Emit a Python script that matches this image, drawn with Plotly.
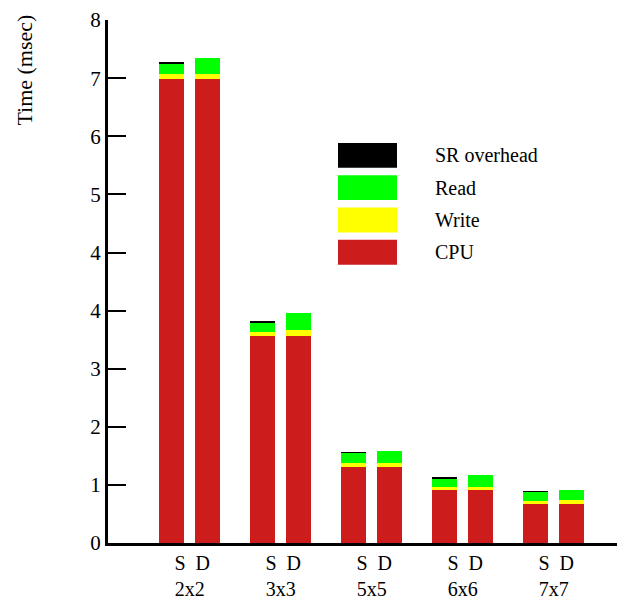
import plotly.graph_objects as go

# ---- data (values in axis units) ----
groups = ["2x2", "3x3", "5x5", "6x6", "7x7"]
variants = ["S", "D"]
cpu_s = [7.98, 3.57, 1.30, 0.91, 0.67]
cpu_d = [7.98, 3.57, 1.30, 0.91, 0.67]
write_s = [0.10, 0.07, 0.07, 0.05, 0.06]
write_d = [0.10, 0.09, 0.07, 0.06, 0.07]
read_s = [0.175, 0.16, 0.185, 0.155, 0.15]
read_d = [0.275, 0.297, 0.218, 0.196, 0.165]
sr_s = [0.01, 0.01, 0.01, 0.01, 0.01]
sr_d = [0.0, 0.0, 0.0, 0.0, 0.0]
ytick_vals = [0, 1, 2, 3, 4, 5, 6, 7, 8, 9]
ytick_text = ["0", "1", "2", "3", "4", "4", "5", "6", "7", "8"]
series_names = ["CPU", "Write", "Read", "SR overhead"]
series_colors = ["#CC1C1C", "#FFFF00", "#00FF00", "#000000"]

FONT = "Liberation Serif, Times New Roman, serif"
OFF = 8  # page body margin
W, H = 625 - OFF, 600 - OFF
PLOT_L, PLOT_R, PLOT_T, PLOT_B = 108, 625, 17, 544  # page pixels
ML = PLOT_L - OFF
MT = PLOT_T - OFF
MR = (OFF + W) - PLOT_R
MB = (OFF + H) - PLOT_B
PW, PH = PLOT_R - PLOT_L, PLOT_B - PLOT_T

def px(xp):
    return (xp - PLOT_L) / PW

def py(yp):
    return (PLOT_B - yp) / PH

px_per_group = 91.0
offset = 18.0 / px_per_group
bar_w = 25.3 / px_per_group

x_pos = []
for i in range(len(groups)):
    x_pos += [i - offset, i + offset]

def interleave(a, b):
    out = []
    for u, v in zip(a, b):
        out += [u, v]
    return out

series_vals = [interleave(cpu_s, cpu_d), interleave(write_s, write_d),
               interleave(read_s, read_d), interleave(sr_s, sr_d)]

fig = go.Figure()
for name, col, vals in zip(series_names, series_colors, series_vals):
    fig.add_trace(go.Bar(x=x_pos, y=vals, name=name, width=bar_w,
                         marker=dict(color=col, line=dict(width=0)),
                         showlegend=False))

x0 = -(189.7 - PLOT_L) / px_per_group
x1 = x0 + PW / px_per_group

fig.update_layout(
    width=W, height=H, barmode="stack",
    margin=dict(l=ML, r=MR, t=MT, b=MB, pad=0),
    plot_bgcolor="white", paper_bgcolor="white",
    font=dict(family=FONT, size=20, color="black"),
    xaxis=dict(range=[x0, x1], showline=True, linecolor="black", linewidth=3,
               showgrid=False, zeroline=False, ticks="",
               tickvals=list(range(len(groups))),
               ticktext=[" S  D<br>" + g for g in groups],
               tickfont=dict(family=FONT, size=20, color="black")),
    yaxis=dict(range=[0, 9.002], showline=True, linecolor="black", linewidth=3,
               showgrid=False, zeroline=False, ticks="inside", ticklen=18,
               tickwidth=2, tickcolor="black", ticklabeloverflow="allow",
               tickvals=ytick_vals, ticktext=ytick_text,
               tickfont=dict(family=FONT, size=21, color="black")),
)

fig.add_annotation(text="Time (msec)", textangle=-90, xref="paper", yref="paper",
                   x=px(25), y=py(68), showarrow=False,
                   xanchor="center", yanchor="middle",
                   font=dict(family=FONT, size=22, color="black"))

# legend drawn manually (big swatches)
legend_order = [3, 2, 1, 0]
row_tops = [141, 173.5, 206, 238.5]
for k, idx in enumerate(legend_order):
    top = row_tops[k]
    bot = top + 25
    fig.add_shape(type="rect", xref="paper", yref="paper",
                  x0=px(338), x1=px(397), y0=py(bot), y1=py(top),
                  fillcolor=series_colors[idx], line=dict(width=0))
    fig.add_annotation(text=series_names[idx], xref="paper", yref="paper",
                       x=px(433), y=py(top + 12.5),
                       showarrow=False, xanchor="left", yanchor="middle",
                       font=dict(family=FONT, size=20, color="black"))

fig.write_html("out.html")
